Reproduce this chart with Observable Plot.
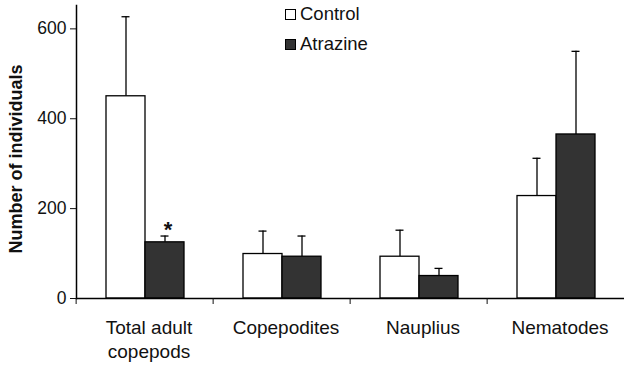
<!DOCTYPE html>
<html>
<head>
<meta charset="utf-8">
<script src="https://cdn.jsdelivr.net/npm/d3@7"></script>
<script src="https://cdn.jsdelivr.net/npm/@observablehq/plot@0.6"></script>
<style>
  body { margin: 0; background: #fff; }
  #wrap { position: relative; width: 625px; height: 365px; font-family: "Liberation Sans", Arial, sans-serif; }
  #legend { position: absolute; left: 285px; top: 4px; font-size: 18.5px; color: #111; }
  #legend .row { display: flex; align-items: center; height: 20px; margin-bottom: 10px; }
  #legend .sw { width: 9px; height: 9px; border: 1px solid #000; margin-right: 4px; }
</style>
</head>
<body>
<div id="wrap"><div id="legend"></div></div>
<script>
const categories = ["Total adult copepods", "Copepodites", "Nauplius", "Nematodes"];
const categoryLabels = ["Total adult\ncopepods", "Copepodites", "Nauplius", "Nematodes"];
const treatments = ["Control", "Atrazine"];
const treatmentColors = ["#ffffff", "#333333"];
const controlMean = [450, 99, 93, 228];
const controlSE = [177, 51, 59, 84];
const atrazineMean = [125, 93, 50, 365];
const atrazineSE = [14, 46, 17, 185];
const yTicks = [0, 200, 400, 600];
const significant = [{category: "Total adult copepods", treatment: "Atrazine", label: "*"}];

const rows = [];
categories.forEach((c, i) => {
  rows.push({category: c, treatment: "Control", mean: controlMean[i], se: controlSE[i]});
  rows.push({category: c, treatment: "Atrazine", mean: atrazineMean[i], se: atrazineSE[i]});
});
const rowOf = (c, t) => rows.find(r => r.category === c && r.treatment === t);
const sigRows = significant.map(s => ({...s, top: rowOf(s.category, s.treatment).mean + rowOf(s.category, s.treatment).se}));

const W = 625, H = 365, mL = 74, mR = 0, mT = 5, mB = 67;
const step = (W - mL - mR) / categories.length;
const labelMap = new Map(categories.map((c, i) => [c, categoryLabels[i]]));

const chart = Plot.plot({
  width: W, height: H,
  marginLeft: mL, marginRight: mR, marginTop: mT, marginBottom: mB,
  style: {fontFamily: "Liberation Sans, Arial, sans-serif", fontSize: "17px", color: "#111", background: "transparent"},
  fx: {domain: categories, padding: 0, axis: null},
  x: {domain: treatments, paddingInner: 0, paddingOuter: 0.75, axis: null},
  y: {domain: [0, 652], axis: null},
  color: {domain: treatments, range: treatmentColors},
  marks: [
    Plot.ruleX(rows, {fx: "category", x: "treatment", y1: "mean", y2: d => d.mean + d.se, stroke: "#000", strokeWidth: 1.3}),
    Plot.tickY(rows, {fx: "category", x: "treatment", y: d => d.mean + d.se, insetLeft: 15.5, insetRight: 15.5, stroke: "#000", strokeWidth: 1.3}),
    Plot.barY(rows, {fx: "category", x: "treatment", y: "mean", fill: "treatment", stroke: "#000", strokeWidth: 1.3}),
    Plot.text(sigRows, {fx: "category", x: "treatment", y: "top", text: "label", dy: -6, dx: 3, fontSize: 22, fontWeight: "bold"}),
    Plot.ruleY([0], {stroke: "#000", strokeWidth: 1.5}),
    Plot.frame({anchor: "left", facetAnchor: "left", stroke: "#000", strokeWidth: 1.5}),
    Plot.axisY({ticks: yTicks, tickSize: 6, tickPadding: 4, tickFormat: d => String(d),
      label: "Number of individuals", labelAnchor: "center", labelArrow: "none", labelOffset: 67}),
    Plot.axisFx({anchor: "bottom", tickSize: 6, dx: -step / 2, tickFormat: () => "", label: null}),
    Plot.axisFx({anchor: "bottom", tickSize: 0, tickPadding: 19, dx: 4, tickFormat: d => labelMap.get(d), label: null, lineHeight: 1.25})
  ]
});
const setSize = (sel, size) => chart.querySelectorAll(sel).forEach(g => g.setAttribute("font-size", size));
setSize('[aria-label="y-axis tick label"]', 17.5);
setSize('[aria-label="fx-axis tick label"]', 19);
chart.querySelectorAll('[aria-label="y-axis label"]').forEach(g => {
  g.setAttribute("font-size", 18);
  g.setAttribute("font-weight", "bold");
  g.querySelectorAll("text").forEach(t => t.setAttribute("dx", "-7"));
});
document.getElementById("wrap").prepend(chart);

const legend = document.getElementById("legend");
treatments.forEach((t, i) => {
  const row = document.createElement("div");
  row.className = "row";
  const sw = document.createElement("span");
  sw.className = "sw";
  sw.style.background = treatmentColors[i];
  const lab = document.createElement("span");
  lab.textContent = t;
  row.append(sw, lab);
  legend.append(row);
});
</script>
</body>
</html>
